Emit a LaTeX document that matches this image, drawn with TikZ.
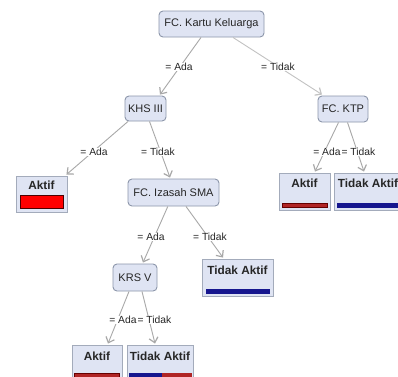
\documentclass[tikz,border=0pt]{standalone}
\usepackage{fontspec}
\setmainfont{Liberation Sans}
\usetikzlibrary{arrows.meta,calc}
\definecolor{nodefill}{HTML}{DFE4F3}
\definecolor{nodeline}{HTML}{8C96AA}
\definecolor{edgecol}{HTML}{A8A8A8}
\definecolor{barred}{HTML}{FF0000}
\definecolor{bardark}{HTML}{B02525}
\definecolor{barblue}{HTML}{16168E}
\tikzset{
  inner/.style={draw=nodeline, fill=nodefill, rounded corners=4pt, line width=0.9pt,
    inner sep=0pt, font=\fontsize{11}{12}\selectfont, text=black!85},
  leaf/.style={draw=nodeline!80, fill=nodefill, line width=0.9pt, inner sep=0pt},
  leaftext/.style={font=\bfseries\fontsize{11.8}{13}\selectfont, text=black!85, inner sep=0pt},
  edge/.style={draw=edgecol, line width=0.9pt, -{Straight Barb[length=5pt,width=9pt,line width=1.2pt]}},
  elabel/.style={fill=white, inner sep=0.3pt, font=\fontsize{10.3}{11}\selectfont, text=black!85},
}
\begin{document}
\begin{tikzpicture}[x=1pt,y=-1pt]
\clip (0,0) rectangle (398,376);
\fill[white] (0,0) rectangle (398,376);

% inner nodes
\node[inner, minimum width=105pt, minimum height=26pt] (n1) at (211.5,24) {FC. Kartu Keluarga};
\node[inner, minimum width=41pt, minimum height=25pt] (n2) at (145.5,108.5) {KHS III};
\node[inner, minimum width=50pt, minimum height=26pt] (n3) at (343,109) {FC. KTP};
\node[inner, minimum width=91pt, minimum height=27pt] (n4) at (173.5,192.5) {FC. Izasah SMA};
\node[inner, minimum width=44pt, minimum height=27pt] (n5) at (135,277.5) {KRS V};

% leaves
\node[leaf, minimum width=51pt, minimum height=36pt] (l1) at (41.5,194) {};
\node[leaftext] (t1) at (41.5,185.5) {Aktif};
\filldraw[fill=barred, draw=black!70!red, line width=0.8pt] (20,195) rectangle (63,208);

\node[leaf, minimum width=51pt, minimum height=37pt] (l2) at (304.5,191.5) {};
\node[leaftext] (t2) at (304.5,183) {Aktif};
\filldraw[fill=bardark, draw=black!60!red, line width=0.6pt] (282,203) rectangle (327,207.5);

\node[leaf, minimum width=68pt, minimum height=37pt] (l3) at (368,191.5) {};
\node[leaftext] (t3) at (368,183) {Tidak Aktif};
\fill[barblue] (337,203) rectangle (401,208);

\node[leaf, minimum width=71pt, minimum height=37pt] (l4) at (237.5,277.5) {};
\node[leaftext] (t4) at (237.5,270) {Tidak Aktif};
\fill[barblue] (206,289) rectangle (270,294);

\node[leaf, minimum width=50pt, minimum height=40pt] (l5) at (97,365) {};
\node[leaftext] (t5) at (97,356) {Aktif};
\filldraw[fill=bardark, draw=black!60!red, line width=0.6pt] (74,373) rectangle (119,380);

\node[leaf, minimum width=66pt, minimum height=40pt] (l6) at (160,365) {};
\node[leaftext] (t6) at (160,356) {Tidak Aktif};
\fill[barblue] (129,373) rectangle (162,380);
\fill[bardark] (162,373) rectangle (192,380);

% edges
\draw[edge] ($(n1.south)+(-10.5,0)$) -- ($(n2.north)+(14.5,-1)$);
\draw[edge, draw=edgecol!70] ($(n1.south)+(21.5,0)$) -- ($(n3.north)+(-21,-1)$);
\draw[edge] ($(n2.south)+(-17.5,0)$) -- ($(l1.north east)+(-1,-1)$);
\draw[edge] ($(n2.south)+(4,0)$) -- ($(n4.north)+(-3.5,-1)$);
\draw[edge] ($(n3.south)+(-4.5,0)$) -- ($(l2.north)+(10.5,-1)$);
\draw[edge] ($(n3.south)+(4.5,0)$) -- ($(l3.north)+(-4,-1)$);
\draw[edge] ($(n4.south)+(-5.7,0)$) -- ($(n5.north)+(8,-1)$);
\draw[edge] ($(n4.south)+(12.5,0)$) -- ($(l4.north)+(-14.5,-1)$);
\draw[edge] ($(n5.south)+(-6,0)$) -- ($(l5.north)+(11,-1)$);
\draw[edge] ($(n5.south)+(7,0)$) -- ($(l6.north)+(-5,-1)$);

% edge labels
\node[elabel] (e1) at (179,67) {= Ada};
\node[elabel] (e2) at (278,67) {= Tidak};
\node[elabel] (e3) at (94,152) {= Ada};
\node[elabel] (e4) at (158,152) {= Tidak};
\node[elabel, anchor=east] (e5) at (341,152) {= Ada};
\node[elabel, anchor=west] (e6) at (341,152) {= Tidak};
\node[elabel] (e7) at (151,237) {= Ada};
\node[elabel] (e8) at (210,237) {= Tidak};
\node[elabel, anchor=east] (e9) at (137,320) {= Ada};
\node[elabel, anchor=west] (e10) at (137,320) {= Tidak};
\end{tikzpicture}
\end{document}
